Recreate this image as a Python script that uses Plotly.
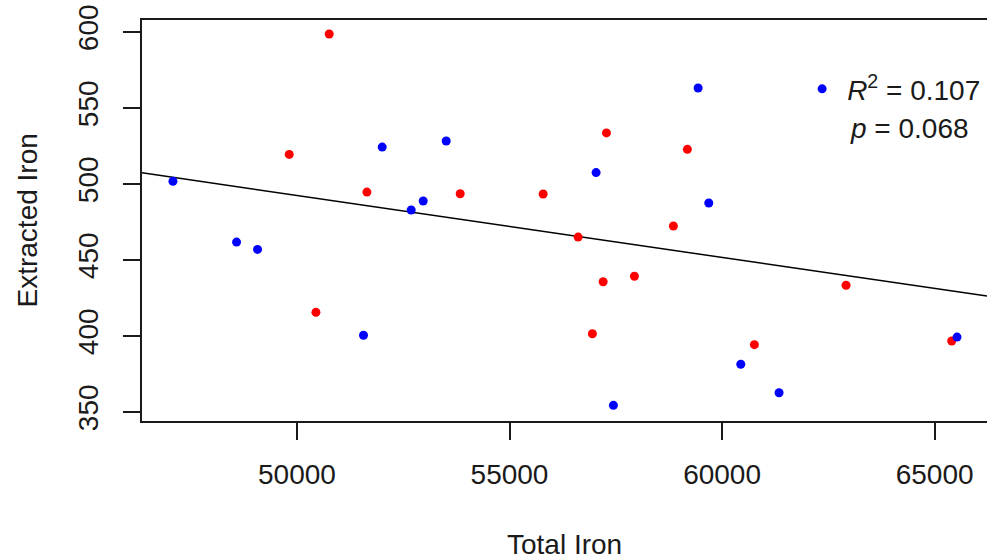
import plotly.graph_objects as go

# ---- data ----
blue_x = [47084, 48580, 49074, 51566, 52688, 52970, 52006, 53511, 59436, 57037,
          59687, 57444, 60440, 61340, 65526]
blue_y = [501.8, 461.8, 457.0, 400.5, 482.9, 488.8, 524.3, 528.3, 563.2, 507.5,
          487.5, 354.4, 381.4, 362.7, 399.3]
red_x = [50759, 49819, 51646, 53840, 50447, 55791, 57280, 59184, 58855, 56614,
         57202, 57938, 56950, 60760, 62916, 65401]
red_y = [598.7, 519.5, 494.7, 493.6, 415.6, 493.4, 533.6, 522.8, 472.4, 465.1,
         435.7, 439.3, 401.5, 394.3, 433.4, 396.7]

fit_intercept = 696.5
fit_slope = -0.00408

x_range = [46356, 66231]
y_range = [344.1, 607.9]
x_ticks = [50000, 55000, 60000, 65000]
x_ticklabels = ["50000", "55000", "60000", "65000"]
y_ticks = [350, 400, 450, 500, 550, 600]
y_ticklabels = ["350", "400", "450", "500", "550", "600"]

r2_text = "<i>R</i><sup>2</sup> = 0.107"
p_text = "<i>p</i> = 0.068"
x_title = "Total Iron"
y_title = "Extracted Iron"

FONT = "Arial, Liberation Sans, sans-serif"
FS = 28
INK = "#1a1a1a"

fig = go.Figure()

line_x = x_range
line_y = [fit_intercept + fit_slope * v for v in line_x]
fig.add_trace(go.Scatter(x=line_x, y=line_y, mode="lines",
                         line=dict(color="black", width=1.5), showlegend=False,
                         hoverinfo="skip"))
fig.add_trace(go.Scatter(x=red_x, y=red_y, mode="markers",
                         marker=dict(color="#ff0000", size=9), showlegend=False))
fig.add_trace(go.Scatter(x=blue_x, y=blue_y, mode="markers",
                         marker=dict(color="#0000ff", size=9), showlegend=True,
                         name=r2_text))

fig.update_layout(
    width=987, height=558,
    margin=dict(l=142, r=0, t=20, b=137, autoexpand=False),
    paper_bgcolor="white", plot_bgcolor="white",
    font=dict(family=FONT, size=FS, color=INK),
    legend=dict(x=0.7753, y=0.89, xanchor="left", yanchor="top",
                bgcolor="rgba(0,0,0,0)", font=dict(size=FS, color=INK),
                itemwidth=40, tracegroupgap=0),
    xaxis=dict(range=x_range, tickvals=x_ticks, ticktext=x_ticklabels,
               showgrid=False, zeroline=False, showline=True, mirror=True,
               linecolor=INK, linewidth=1.5, ticks="outside", ticklen=17,
               tickwidth=1.5, tickcolor=INK, ticklabelstandoff=11),
    yaxis=dict(range=y_range, tickvals=y_ticks, ticktext=y_ticklabels,
               showgrid=False, zeroline=False, showline=True, mirror=False,
               linecolor=INK, linewidth=1.5, ticks="outside", ticklen=17,
               tickwidth=1.5, tickcolor=INK, tickangle=-90, ticklabelstandoff=14),
    annotations=[
        dict(text=p_text, xref="paper", yref="paper", x=0.8356, y=(421 - 128) / 401,
             xanchor="left", yanchor="middle", showarrow=False,
             font=dict(size=FS, color=INK)),
        dict(text=x_title, xref="paper", yref="paper", x=(564 - 142) / 845, y=(421 - 544) / 401,
             xanchor="center", yanchor="middle", showarrow=False,
             font=dict(size=FS, color=INK)),
        dict(text=y_title, xref="paper", yref="paper", x=(27 - 142) / 845, y=0.5,
             xanchor="center", yanchor="middle", showarrow=False, textangle=-90,
             font=dict(size=FS, color=INK)),
    ],
)

fig.write_html("out.html")
